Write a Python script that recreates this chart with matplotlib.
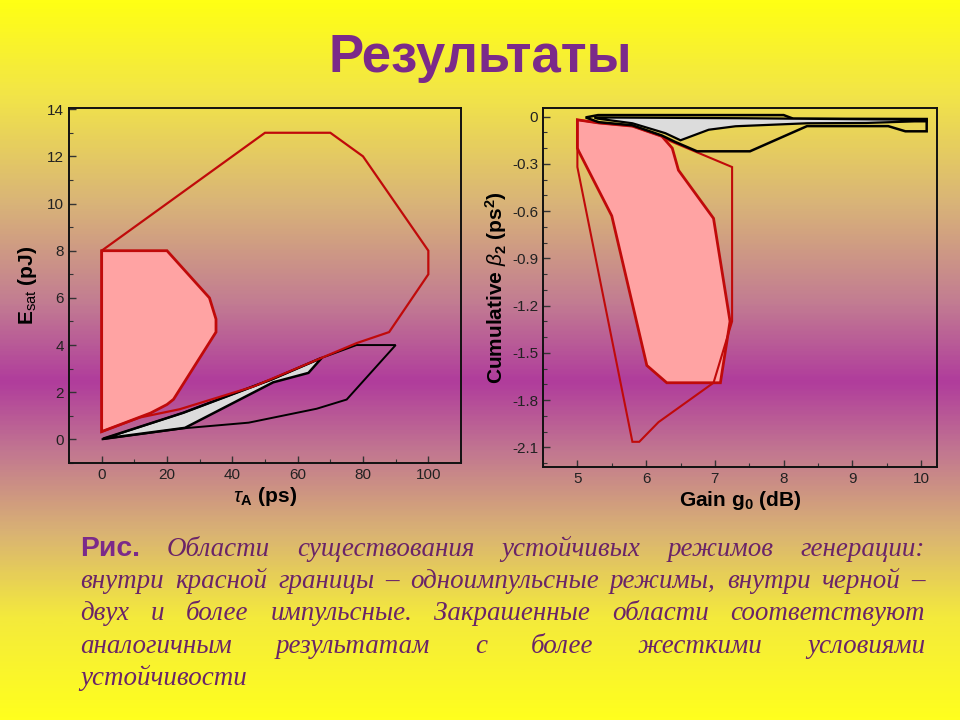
import matplotlib
matplotlib.use("Agg")
import matplotlib.pyplot as plt
import numpy as np
from matplotlib.colors import LinearSegmentedColormap
from matplotlib.ticker import MultipleLocator, AutoMinorLocator, FuncFormatter

plt.rcParams['font.family'] = ['Liberation Sans', 'DejaVu Sans']
plt.rcParams['axes.unicode_minus'] = False
plt.rcParams['mathtext.fontset'] = 'custom'
plt.rcParams['mathtext.rm'] = 'Liberation Sans'
plt.rcParams['mathtext.it'] = 'Liberation Sans:italic'
plt.rcParams['mathtext.bf'] = 'Liberation Sans:bold'

# --- left panel: E_sat vs tau_A ---
red_outer_tau = [0, 50, 70, 80, 100, 100, 88, 78, 46.4, 23.9, 11.7, 0]
red_outer_e = [8, 13, 13, 12, 8, 7, 4.55, 4.08, 2.24, 1.28, 0.93, 0.33]

pink_tau = [0, 20, 33, 35, 35, 22, 20, 15, 0]
pink_e = [8, 8, 6, 5.1, 4.55, 1.7, 1.48, 1.12, 0.33]

black_tau = [0, 25, 52, 67.4, 78, 90, 75, 65.8, 45, 25, 0]
black_e = [0, 1.13, 2.54, 3.46, 4.0, 4.0, 1.69, 1.3, 0.71, 0.47, 0]

gray_tau = [0.4, 25, 52, 67.4, 63.3, 52.5, 25.5]
gray_e = [0.03, 1.13, 2.54, 3.46, 2.82, 2.42, 0.49]

# --- right panel: cumulative beta2 vs gain ---
red_outer_g = [5.0, 5.31, 5.8, 6.23, 6.35, 7.25, 7.25, 6.98, 6.18, 5.9, 5.8, 5.0]
red_outer_b = [-0.02, -0.04, -0.06, -0.125, -0.155, -0.32, -1.30, -1.69, -1.94,
               -2.065, -2.065, -0.32]

pink_g = [5.0, 5.31, 5.8, 6.23, 6.38, 6.47, 6.98, 7.22, 7.08, 6.30, 6.01, 5.5, 5.02, 5.0]
pink_b = [-0.02, -0.04, -0.06, -0.125, -0.2, -0.34, -0.646, -1.30, -1.69, -1.69,
          -1.58, -0.63, -0.22, -0.2]

black_g = [5.12, 5.3, 8.0, 8.14, 10.08, 10.08, 9.77, 9.52, 8.34, 7.51, 6.74, 6.42,
           6.23, 5.8, 5.31, 5.12]
black_b = [-0.005, 0.01, 0.01, -0.013, -0.015, -0.093, -0.093, -0.06, -0.06, -0.22,
           -0.22, -0.16, -0.12, -0.055, -0.035, -0.005]

gray_g = [5.25, 7.4, 10.08, 10.08, 9.9, 9.2, 8.34, 7.3, 6.91, 6.5, 6.28, 5.8, 5.29]
gray_b = [-0.005, -0.01, -0.02, -0.03, -0.03, -0.04, -0.042, -0.061, -0.083, -0.15,
          -0.105, -0.042, -0.012]

title = 'Результаты'
caption_lines = [
    'Рис. Области существования устойчивых режимов генерации:',
    'внутри красной границы – одноимпульсные режимы, внутри черной –',
    'двух и более импульсные. Закрашенные области соответствуют',
    'аналогичным результатам с более жесткими условиями',
    'устойчивости',
]

RED = '#c00a0a'
PINK = '#ffa3a3'
GRAY = '#dcdcdc'
PURPLE = '#7b2a8a'
CAP = '#6a2468'
TXT = '#222222'

W, H = 960, 720
fig = plt.figure(figsize=(W / 100, H / 100), dpi=100)

# slide background gradient
bg = fig.add_axes([0, 0, 1, 1], zorder=-10)
stops = [(0.0, '#ffff14'), (0.13, '#f2e548'), (0.28, '#d9b478'), (0.42, '#c27c92'),
         (0.53, '#b03c9c'), (0.63, '#c27890'), (0.74, '#d9b274'), (0.86, '#f4ea3c'),
         (1.0, '#ffff1e')]
cmap = LinearSegmentedColormap.from_list('slide', stops)
bg.imshow(np.linspace(0, 1, 400).reshape(-1, 1), aspect='auto', cmap=cmap,
          extent=[0, 1, 0, 1], origin='upper')
bg.set_axis_off()

fig.text(0.5, 1 - 58 / H, title, ha='center', va='center', fontsize=38,
         weight='bold', color=PURPLE)


def style(ax):
    ax.set_facecolor('none')
    for s in ax.spines.values():
        s.set_linewidth(1.4)
        s.set_color('#111111')
    ax.tick_params(which='both', direction='in', top=False, right=False,
                   labelsize=11, labelcolor=TXT, color='#333333')
    ax.tick_params(which='major', length=5, width=1)
    ax.tick_params(which='minor', length=3, width=0.8)


# left plot
ax1 = fig.add_axes([69 / W, 1 - 463 / H, 392 / W, 355 / H])
style(ax1)
ax1.fill(pink_tau, pink_e, facecolor=PINK, edgecolor=RED, lw=2.0, zorder=2)
ax1.fill(gray_tau, gray_e, facecolor=GRAY, edgecolor='black', lw=1.8, zorder=3)
ax1.fill(black_tau, black_e, facecolor='none', edgecolor='black', lw=1.4, zorder=3)
ax1.fill(red_outer_tau, red_outer_e, facecolor='none', edgecolor=RED, lw=1.6, zorder=4)
ax1.set_xlim(-10, 110)
ax1.set_ylim(-1, 14.05)
ax1.xaxis.set_major_locator(MultipleLocator(20))
ax1.yaxis.set_major_locator(MultipleLocator(2))
ax1.xaxis.set_minor_locator(AutoMinorLocator(2))
ax1.yaxis.set_minor_locator(AutoMinorLocator(2))
ax1.set_xlabel(r'$\tau_\mathbf{A}$ (ps)', fontsize=15, weight='bold', labelpad=2)
ax1.set_ylabel(r'$\mathbf{E}_{\mathrm{sat}}$ (pJ)', fontsize=15, weight='bold', labelpad=6)

# right plot
ax2 = fig.add_axes([543 / W, 1 - 467 / H, 394 / W, 359 / H])
style(ax2)
ax2.fill(pink_g, pink_b, facecolor=PINK, edgecolor=RED, lw=2.0, zorder=2)
ax2.fill(red_outer_g, red_outer_b, facecolor='none', edgecolor=RED, lw=1.5, zorder=3)
ax2.fill(black_g, black_b, facecolor='none', edgecolor='black', lw=1.8, zorder=4)
ax2.fill(gray_g, gray_b, facecolor=GRAY, edgecolor='black', lw=1.6, zorder=5)
ax2.set_xlim(4.5, 10.23)
ax2.set_ylim(-2.225, 0.055)
ax2.xaxis.set_major_locator(MultipleLocator(1))
ax2.yaxis.set_major_locator(MultipleLocator(0.3))
ax2.xaxis.set_minor_locator(AutoMinorLocator(2))
ax2.yaxis.set_minor_locator(AutoMinorLocator(3))
ax2.yaxis.set_major_formatter(FuncFormatter(lambda v, p: '0' if abs(v) < 1e-9 else f'{v:.1f}'))
ax2.set_xlabel(r'Gain g$_\mathbf{0}$ (dB)', fontsize=15, weight='bold', labelpad=2)
ax2.set_ylabel(r'Cumulative $\beta_\mathbf{2}$ (ps$^\mathbf{2}$)', fontsize=15,
               weight='bold', labelpad=2)

# justified caption
renderer = fig.canvas.get_renderer()
left_px, right_px = 80, 925
base_y = [556, 588, 620, 653, 685]
cap_size = 20


def make_word(w, size):
    if w == 'Рис.':
        return fig.text(0, 0, w, fontsize=size + 1, weight='bold', color=PURPLE,
                        family=['Liberation Sans', 'DejaVu Sans'], va='baseline')
    return fig.text(0, 0, w, fontsize=size, style='italic', color=CAP,
                    family=['Liberation Serif', 'DejaVu Serif'], va='baseline')


# pick font size so the longest line fits the text block
probe = [make_word(w, cap_size) for w in caption_lines[1].split()]
natural = sum(t.get_window_extent(renderer).width for t in probe)
for t in probe:
    t.remove()
cap_size = cap_size * (right_px - left_px - 13 * 7) / natural

for i, line in enumerate(caption_lines):
    words = line.split()
    arts = [make_word(w, cap_size) for w in words]
    widths = [t.get_window_extent(renderer).width for t in arts]
    if i == len(caption_lines) - 1 or len(words) == 1:
        gap = 7
    else:
        gap = (right_px - left_px - sum(widths)) / (len(words) - 1)
    x = left_px
    for t, w in zip(arts, widths):
        t.set_position((x / W, 1 - base_y[i] / H))
        x += w + gap

fig.savefig('out.png', dpi=100)
